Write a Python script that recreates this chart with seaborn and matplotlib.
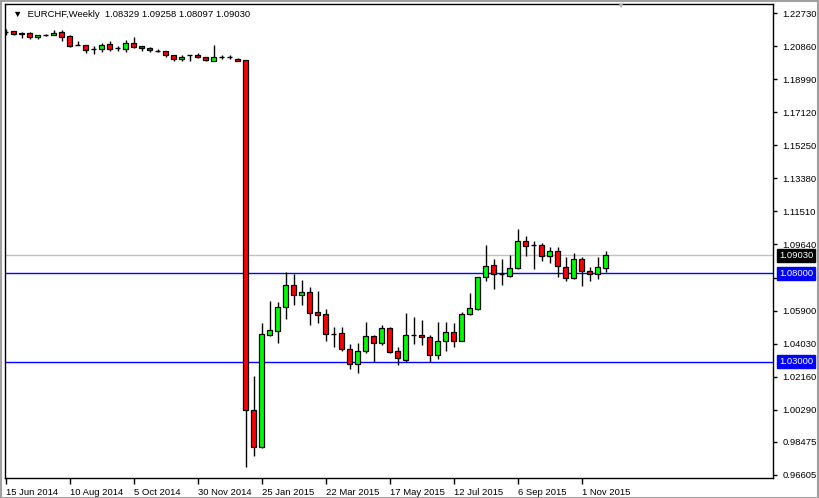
import matplotlib
import seaborn as sns

matplotlib.use("Agg")
import matplotlib.pyplot as plt
import matplotlib.transforms as mtransforms
from matplotlib.patches import Rectangle


# Weekly EURCHF candles, 15 Jun 2014 -> 22 Nov 2015
opens = [1.2166, 1.2169, 1.2153, 1.2162, 1.2139, 1.2150, 1.2150, 1.2166, 1.2143, 1.2094,
         1.2090, 1.2068, 1.2068, 1.2098, 1.2075, 1.2068, 1.2105, 1.2086, 1.2075, 1.2060,
         1.2056, 1.2034, 1.2011, 1.2034, 1.2034, 1.2022, 1.2003, 1.2026, 1.2022, 1.2014,
         1.2007, 1.0028, 0.9817, 1.0454, 1.0476, 1.0609, 1.0733, 1.0677, 1.0695, 1.0582,
         1.0571, 1.0459, 1.0462, 1.0375, 1.0288, 1.0360, 1.0446, 1.0409, 1.0492, 1.0360,
         1.0311, 1.0452, 1.0454, 1.0442, 1.0337, 1.0420, 1.0469, 1.0420, 1.0571, 1.0597,
         1.0778, 1.0848, 1.0795, 1.0787, 1.0833, 1.0985, 1.0959, 1.0959, 1.0899, 1.0925,
         1.0838, 1.0773, 1.0884, 1.0812, 1.0797, 1.08329]
highs = [1.2182, 1.2171, 1.2163, 1.2163, 1.2151, 1.2154, 1.2177, 1.2177, 1.2146, 1.2113,
         1.2092, 1.2086, 1.2105, 1.2113, 1.2086, 1.2120, 1.2139, 1.2089, 1.2078, 1.2068,
         1.2058, 1.2035, 1.2034, 1.2035, 1.2045, 1.2024, 1.2094, 1.2037, 1.2034, 1.2018,
         1.2010, 1.0220, 1.0518, 1.0646, 1.0639, 1.0808, 1.0797, 1.0763, 1.0725, 1.0703,
         1.0599, 1.0496, 1.0496, 1.0401, 1.0405, 1.0526, 1.0450, 1.0507, 1.0496, 1.0382,
         1.0575, 1.0556, 1.0537, 1.0454, 1.0526, 1.0526, 1.0518, 1.0582, 1.0690, 1.0782,
         1.0961, 1.0880, 1.0880, 1.0905, 1.1050, 1.1012, 1.0985, 1.0971, 1.0948, 1.0948,
         1.0891, 1.0914, 1.0891, 1.0838, 1.0895, 1.09258]
lows = [1.2149, 1.2147, 1.2132, 1.2128, 1.2128, 1.2143, 1.2149, 1.2116, 1.2079, 1.2092,
        1.2045, 1.2041, 1.2052, 1.2060, 1.2060, 1.2052, 1.2075, 1.2060, 1.2052, 1.2052,
        1.2026, 1.2003, 1.2003, 1.2003, 1.2021, 1.2003, 1.2002, 1.2011, 1.2011, 1.2000,
        0.9706, 0.9768, 0.9811, 1.0446, 1.0409, 1.0544, 1.0620, 1.0620, 1.0510, 1.0522,
        1.0420, 1.0386, 1.0363, 1.0262, 1.0235, 1.0349, 1.0299, 1.0394, 1.0349, 1.0281,
        1.0299, 1.0401, 1.0397, 1.0299, 1.0318, 1.0363, 1.0386, 1.0416, 1.0565, 1.0593,
        1.0759, 1.0711, 1.0733, 1.0782, 1.0827, 1.0899, 1.0824, 1.0872, 1.0861, 1.0778,
        1.0756, 1.0771, 1.0729, 1.0756, 1.0771, 1.08097]
closes = [1.2166, 1.2153, 1.2162, 1.2139, 1.2150, 1.2150, 1.2162, 1.2136, 1.2086, 1.2094,
          1.2064, 1.2068, 1.2094, 1.2068, 1.2075, 1.2105, 1.2082, 1.2075, 1.2064, 1.2060,
          1.2034, 1.2011, 1.2026, 1.2034, 1.2022, 1.2007, 1.2026, 1.2026, 1.2022, 1.2003,
          1.0028, 0.9817, 1.0458, 1.0480, 1.0612, 1.0733, 1.0677, 1.0695, 1.0578, 1.0567,
          1.0455, 1.0459, 1.0375, 1.0288, 1.0360, 1.0446, 1.0409, 1.0492, 1.0356, 1.0322,
          1.0450, 1.0452, 1.0442, 1.0337, 1.0420, 1.0469, 1.0420, 1.0571, 1.0605, 1.0778,
          1.0842, 1.0795, 1.0795, 1.0829, 1.0985, 1.0955, 1.0959, 1.0899, 1.0925, 1.0842,
          1.0774, 1.0884, 1.0812, 1.0797, 1.0835, 1.09030]

price_ticks = [1.22730, 1.20860, 1.18990, 1.17120, 1.15250, 1.13380, 1.11510, 1.09640,
               1.07770, 1.05900, 1.04030, 1.02160, 1.00290, 0.98475, 0.96605]
date_tick_pos = [0, 8, 16, 24, 32, 40, 48, 56, 64, 72]
date_tick_labels = ["15 Jun 2014", "10 Aug 2014", "5 Oct 2014", "30 Nov 2014", "25 Jan 2015",
                    "22 Mar 2015", "17 May 2015", "12 Jul 2015", "6 Sep 2015", "1 Nov 2015"]
level_lines = [1.08000, 1.03000]
last_price = 1.09030

UP = "#00ff00"
DOWN = "#ff0000"
W, H = 819, 498
FS = 6.8

sns.set_style("white")
plt.rcParams["font.family"] = ["Liberation Sans", "DejaVu Sans"]

fig = plt.figure(figsize=(W / 100, H / 100), dpi=100, facecolor="white")
ax = fig.add_axes([5 / W, 1 - 478 / H, 768 / W, 474 / H])
ax.set_facecolor("white")

# reference lines first so candles sit on top
ax.axhline(last_price, color="#c0c0c0", lw=1, zorder=1)
for lvl in level_lines:
    ax.axhline(lvl, color="#0000ff", lw=1, zorder=1)

for i, (o, h, l, c) in enumerate(zip(opens, highs, lows, closes)):
    ax.vlines(i, l, h, color="black", lw=1, zorder=2)
    if o == c:
        ax.hlines(o, i - 0.32, i + 0.32, color="black", lw=1, zorder=3)
        continue
    color = UP if c > o else DOWN
    ax.bar(i, abs(c - o), bottom=min(o, c), width=0.62, color=color,
           edgecolor="black", linewidth=0.9, zorder=3)

ax.set_xlim(-0.1, 95.9)
ax.set_ylim(0.9643, 1.2324)

for side in ["left", "right", "top", "bottom"]:
    ax.spines[side].set_color("black")
    ax.spines[side].set_linewidth(1)

ax.yaxis.tick_right()
ax.set_yticks(price_ticks, [f"{p:.5f}" for p in price_ticks])
ax.set_xticks(date_tick_pos, date_tick_labels)
ax.tick_params(axis="y", right=True, length=3, width=1, pad=4, labelsize=FS, colors="black")
ax.tick_params(axis="x", bottom=True, length=4, width=1, pad=3, labelsize=FS, colors="black")
for lab in ax.get_xticklabels():
    lab.set_ha("left")

# price tags on the right scale
tag_tf = mtransforms.blended_transform_factory(fig.transFigure, ax.transData)
tags = [(last_price, "black"), (level_lines[0], "#0000ff"), (level_lines[1], "#0000ff")]
for val, bg in tags:
    fig.text(779 / W, val, f"{val:.5f}", transform=tag_tf, ha="left", va="center",
             fontsize=FS, color="white", zorder=10,
             bbox=dict(boxstyle="square,pad=0.2", facecolor=bg, edgecolor=bg))

ax.text(8 / 768, 1 - 10 / 474, "\u25bc  EURCHF,Weekly  1.08329 1.09258 1.08097 1.09030",
        transform=ax.transAxes, ha="left", va="center", fontsize=FS, color="black")
fig.text(620 / W, 1 - 6 / H, "\u25bc", ha="center", va="center", fontsize=6, color="#b0b0b0")

fig.patches.append(Rectangle((0.5 / W, 0.5 / H), 1 - 1.5 / W, 1 - 1.5 / H,
                             transform=fig.transFigure, fill=False,
                             edgecolor="#a0a0a0", linewidth=1.5))

fig.savefig("out.png", dpi=100, facecolor="white")
